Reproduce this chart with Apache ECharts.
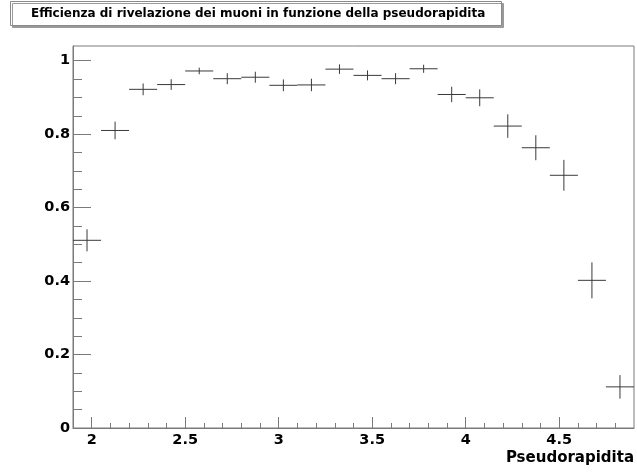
<!DOCTYPE html>
<html>
<head>
<meta charset="utf-8">
<script src="https://cdn.jsdelivr.net/npm/echarts@6/dist/echarts.min.js"></script>
<style>
  html, body { margin: 0; padding: 0; background: #fff; }
  #chart { width: 637px; height: 473px; }
</style>
</head>
<body>
<div id="chart"></div>
<script>
// centri dei bin in pseudorapidita
const etaCenters = [1.975, 2.125, 2.275, 2.425, 2.575, 2.725, 2.875, 3.025, 3.175, 3.325,
                    3.475, 3.625, 3.775, 3.925, 4.075, 4.225, 4.375, 4.525, 4.675, 4.825];
// efficienza e relativo errore
const efficiency = [0.511, 0.810, 0.922, 0.935, 0.972, 0.951, 0.955, 0.933, 0.934, 0.977,
                    0.960, 0.951, 0.978, 0.908, 0.899, 0.822, 0.763, 0.688, 0.402, 0.112];
const effError = [0.030, 0.024, 0.016, 0.0145, 0.009, 0.015, 0.015, 0.016, 0.017, 0.013,
                  0.0136, 0.015, 0.011, 0.021, 0.023, 0.032, 0.034, 0.042, 0.049, 0.032];
const binHalfWidth = 0.075;

// tacche degli assi
const xMajorTicks = [2, 2.5, 3, 3.5, 4, 4.5];
const xMinorTicks = [2.0, 2.1, 2.2, 2.3, 2.4, 2.5, 2.6, 2.7, 2.8, 2.9, 3.0, 3.1, 3.2, 3.3, 3.4,
                     3.5, 3.6, 3.7, 3.8, 3.9, 4.0, 4.1, 4.2, 4.3, 4.4, 4.5, 4.6, 4.7, 4.8];
const yMajorTicks = [0, 0.2, 0.4, 0.6, 0.8, 1];
const yMinorTicks = [0.05, 0.1, 0.15, 0.2, 0.25, 0.3, 0.35, 0.4, 0.45, 0.5, 0.55, 0.6, 0.65,
                     0.7, 0.75, 0.8, 0.85, 0.9, 0.95, 1.0];

const axisGray = '#7a7a7a';
const labelFont = { color: '#000', fontSize: 14.5, fontWeight: 'bold', fontFamily: 'DejaVu Sans' };

const points = etaCenters.map((x, i) => [x, efficiency[i], binHalfWidth, effError[i]]);

function renderCross(params, api) {
  const x = api.value(0), y = api.value(1), ex = api.value(2), ey = api.value(3);
  const l = api.coord([x - ex, y]);
  const r = api.coord([x + ex, y]);
  const t = api.coord([x, y + ey]);
  const b = api.coord([x, y - ey]);
  const st = { stroke: '#3a3a3a', lineWidth: 1 };
  return {
    type: 'group',
    children: [
      { type: 'line', shape: { x1: l[0], y1: l[1], x2: r[0], y2: r[1] }, style: st },
      { type: 'line', shape: { x1: t[0], y1: t[1], x2: b[0], y2: b[1] }, style: st }
    ]
  };
}

const chart = echarts.init(document.getElementById('chart'));
chart.setOption({
  animation: false,
  backgroundColor: '#fff',
  title: {
    text: 'Efficienza di rivelazione dei muoni in funzione della pseudorapidita',
    left: 10,
    top: 1,
    padding: [7, 16, 6, 21],
    borderColor: '#8a8a8a',
    borderWidth: 1,
    backgroundColor: '#fff',
    shadowColor: '#9a9a9a',
    shadowOffsetX: 2,
    shadowOffsetY: 2,
    shadowBlur: 0,
    textStyle: { color: '#000', fontSize: 12, fontWeight: 'bold', fontFamily: 'DejaVu Sans' }
  },
  grid: {
    left: 73, right: 1, top: 46, bottom: 45,
    show: true, borderColor: axisGray, borderWidth: 1, backgroundColor: 'transparent'
  },
  xAxis: [
    {
      type: 'value', min: 1.9, max: 4.9, position: 'bottom',
      name: 'Pseudorapidita', nameLocation: 'end', nameGap: 0,
      nameTextStyle: Object.assign({}, labelFont, { fontSize: 15, align: 'right', verticalAlign: 'top', padding: [23, 0, 0, 0] }),
      axisLine: { show: true, lineStyle: { color: axisGray } },
      axisTick: { show: true, inside: true, length: 11, customValues: xMajorTicks, lineStyle: { color: axisGray } },
      axisLabel: { show: true, margin: 5, customValues: xMajorTicks, ...labelFont },
      splitLine: { show: false }
    },
    {
      type: 'value', min: 1.9, max: 4.9, position: 'bottom',
      axisLine: { show: false },
      axisTick: { show: true, inside: true, length: 5, customValues: xMinorTicks, lineStyle: { color: axisGray } },
      axisLabel: { show: false, customValues: xMinorTicks },
      splitLine: { show: false }
    }
  ],
  yAxis: [
    {
      type: 'value', min: 0, max: 1.04, position: 'left',
      axisLine: { show: true, lineStyle: { color: axisGray } },
      axisTick: { show: true, inside: true, length: 18, customValues: yMajorTicks, lineStyle: { color: axisGray } },
      axisLabel: { show: true, margin: 3, customValues: yMajorTicks, ...labelFont },
      splitLine: { show: false }
    },
    {
      type: 'value', min: 0, max: 1.04, position: 'left',
      axisLine: { show: false },
      axisTick: { show: true, inside: true, length: 9, customValues: yMinorTicks, lineStyle: { color: axisGray } },
      axisLabel: { show: false, customValues: yMinorTicks },
      splitLine: { show: false }
    }
  ],
  series: [
    {
      type: 'custom',
      xAxisIndex: 0,
      yAxisIndex: 0,
      renderItem: renderCross,
      data: points,
      encode: { x: 0, y: 1 },
      silent: true
    }
  ]
});
</script>
</body>
</html>
